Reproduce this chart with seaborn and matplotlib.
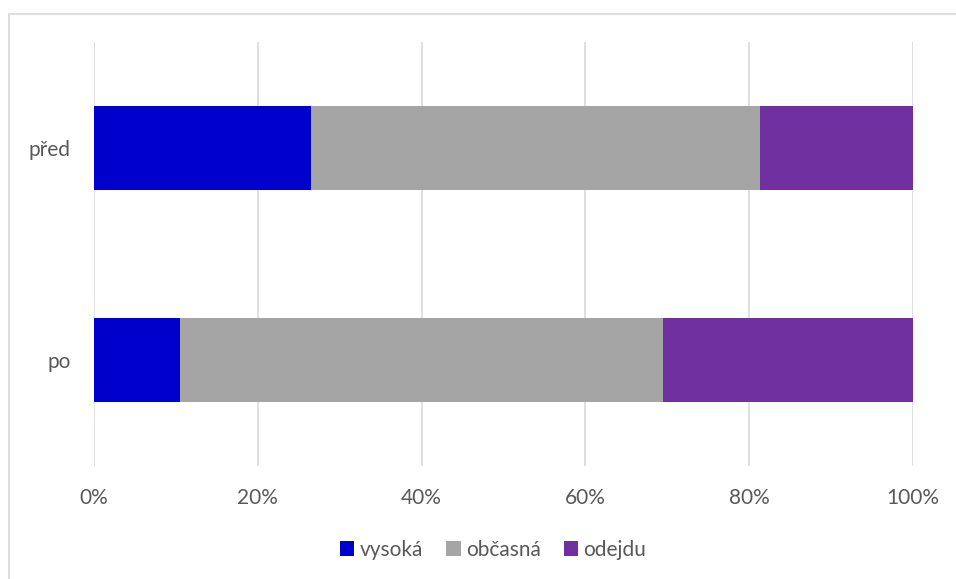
import matplotlib
matplotlib.use("Agg")
import matplotlib.pyplot as plt
import matplotlib.patches as mpatches
import seaborn as sns
import pandas as pd
import numpy as np

categories = ["před", "po"]
series_names = ["vysoká", "občasná", "odejdu"]
vysoka = [26.5, 10.5]
obcasna = [54.8, 59.0]
odejdu = [18.7, 30.5]
colors = ["#0000CC", "#A5A5A5", "#7030A0"]
x_ticks = [0, 20, 40, 60, 80, 100]
x_ticklabels = ["0%", "20%", "40%", "60%", "80%", "100%"]

sns.set_theme(style="white")
plt.rcParams['font.family'] = ['Lato', 'DejaVu Sans']

W, H = 956, 579
fig = plt.figure(figsize=(W / 100, H / 100), dpi=100)
fig.patch.set_facecolor("white")

# outer frame (partially visible)
fig.patches.append(mpatches.Rectangle((8.5 / W, -0.1), 2.0, 1.1 - 13.5 / H,
                                      transform=fig.transFigure, fill=False,
                                      edgecolor="#D9D9D9", linewidth=1.2, zorder=0))

ax = fig.add_axes([94 / W, (H - 466) / H, (913 - 94) / W, (466 - 42) / H])

vals = np.array([vysoka, obcasna, odejdu])
cum = np.cumsum(vals, axis=0)

# draw from the widest cumulative to the narrowest
for i in range(len(series_names) - 1, -1, -1):
    df = pd.DataFrame({"kat": categories, "val": cum[i]})
    sns.barplot(data=df, x="val", y="kat", orient="h", color=colors[i],
                width=0.4, ax=ax, saturation=1, zorder=3, order=categories,
                edgecolor="none")

ax.set_xlim(0, 100)
ax.set_ylim(1.5, -0.5)
ax.set_xticks(x_ticks)
ax.set_xticklabels(x_ticklabels)
ax.xaxis.grid(True, color="#D9D9D9", linewidth=1.2, zorder=0)
ax.yaxis.grid(False)
ax.set_axisbelow(True)
for s in ax.spines.values():
    s.set_visible(False)
ax.set_xlabel("")
ax.set_ylabel("")
ax.tick_params(axis="both", length=0, labelsize=15, labelcolor="#595959")
ax.tick_params(axis="x", pad=16)
ax.tick_params(axis="y", pad=17)

handles = [mpatches.Patch(facecolor=c, edgecolor="none", label=n)
           for c, n in zip(colors, series_names)]
fig.legend(handles=handles, loc="center", bbox_to_anchor=(493 / W, 1 - 550 / H),
           ncol=3, frameon=False, fontsize=15, labelcolor="#595959",
           handlelength=0.7, handleheight=0.7, handletextpad=0.25, columnspacing=1.1)

fig.savefig("out.png", dpi=100)
